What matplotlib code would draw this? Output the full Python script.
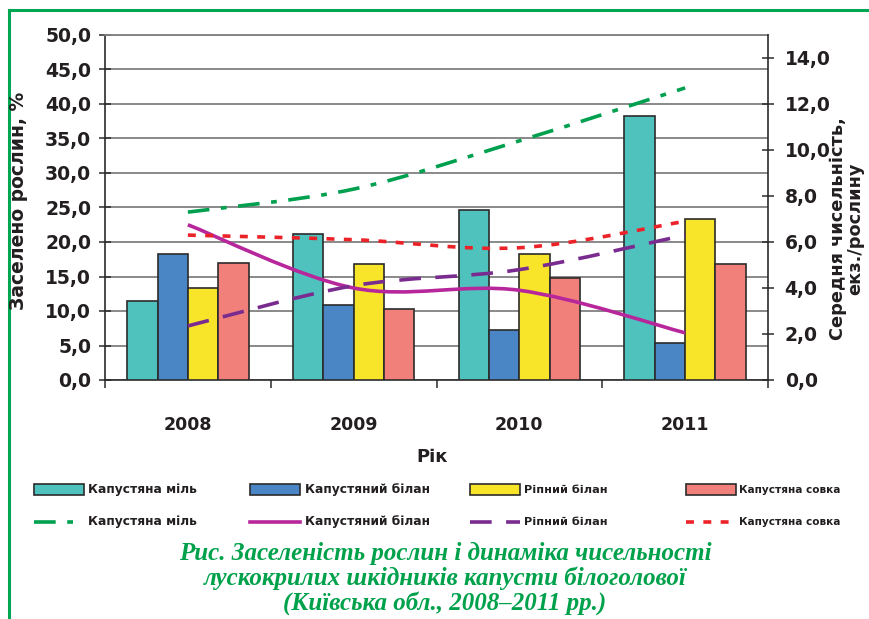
import numpy as np
import matplotlib
matplotlib.use("Agg")
import matplotlib.pyplot as plt
from matplotlib.path import Path
from matplotlib.patches import PathPatch, Rectangle
from matplotlib.lines import Line2D
from matplotlib.ticker import FuncFormatter

# ---- data ----
years = ["2008", "2009", "2010", "2011"]
bar_names = ["Капустяна міль", "Капустяний білан", "Ріпний білан", "Капустяна совка"]
# заселено рослин, %
bar_mil = [11.4, 21.1, 24.6, 38.2]
bar_bilan = [18.3, 10.8, 7.3, 5.3]
bar_ripnyi = [13.3, 16.8, 18.3, 23.3]
bar_sovka = [17.0, 10.3, 14.8, 16.8]
# середня чисельність, екз./рослину
line_mil = [7.3, 8.3, 10.4, 12.7]
line_bilan = [6.75, 4.0, 3.9, 2.05]
line_ripnyi = [2.35, 4.1, 4.8, 6.3]
line_sovka = [6.3, 6.1, 5.75, 6.9]

bar_colors = ["#4FC2BE", "#4A86C6", "#F8E52A", "#F2807A"]
line_colors = ["#00A04F", "#B7279B", "#7A2B8F", "#EC2229"]
line_styles = [(0, (6, 3.2, 1.6, 3.2)), "-", (0, (6, 4)), (0, (2.2, 2.6))]

fig = plt.figure(figsize=(8.69, 6.19), dpi=100)
ax = fig.add_axes([105 / 869, 1 - 380 / 619, (768 - 105) / 869, (380 - 35) / 619])
ax2 = ax.twinx()

x = np.arange(len(years))
w = 0.183
bars = [bar_mil, bar_bilan, bar_ripnyi, bar_sovka]
for i, vals in enumerate(bars):
    ax.bar(x + (i - 1.5) * w, vals, width=w, color=bar_colors[i],
           edgecolor="#2b2b2b", linewidth=1.2, zorder=3)

ax.set_xlim(-0.5, 3.5)
ax.set_ylim(0, 50)
ax.set_yticks(np.arange(0, 50.1, 5))
fmt = FuncFormatter(lambda v, p: f"{v:.1f}".replace(".", ","))
ax.yaxis.set_major_formatter(fmt)
ax.grid(axis="y", color="#808080", linewidth=1.3, zorder=0)
ax.set_axisbelow(True)
ax.set_xticks(x)
ax.set_xticklabels(years)
ax.set_xticks(np.arange(-0.5, 3.6, 1), minor=True)
ax.tick_params(axis="x", which="major", length=0, pad=26, labelsize=12.5)
ax.tick_params(axis="x", which="minor", length=6, width=1.1, direction="out", color="#2b2b2b")
ax.tick_params(axis="y", direction="inout", length=8, width=1.1, pad=6, labelsize=13.5,
               color="#2b2b2b")
for lab in ax.get_xticklabels() + ax.get_yticklabels():
    lab.set_fontweight("bold")
    lab.set_color("#231f20")
for s in ["left", "bottom"]:
    ax.spines[s].set_color("#2b2b2b")
    ax.spines[s].set_linewidth(1.2)
ax.spines["top"].set_color("#808080")
ax.spines["top"].set_linewidth(1.3)
ax.spines["right"].set_visible(False)

ax2.set_ylim(0, 15)
ax2.set_yticks(np.arange(0, 14.1, 2))
ax2.yaxis.set_major_formatter(fmt)
ax2.tick_params(axis="y", direction="inout", length=8, width=1.1, pad=8, labelsize=13.5,
                color="#2b2b2b")
for lab in ax2.get_yticklabels():
    lab.set_fontweight("bold")
    lab.set_color("#231f20")
for s in ["left", "top", "bottom"]:
    ax2.spines[s].set_visible(False)
ax2.spines["right"].set_color("#2b2b2b")
ax2.spines["right"].set_linewidth(1.2)


def smooth_path(xs, ys):
    pts = np.column_stack([xs, ys]).astype(float)
    n = len(pts)
    verts = [pts[0]]
    codes = [Path.MOVETO]
    for k in range(n - 1):
        p0 = pts[k - 1] if k > 0 else pts[k]
        p1 = pts[k]
        p2 = pts[k + 1]
        p3 = pts[k + 2] if k + 2 < n else pts[k + 1]
        c1 = p1 + (p2 - p0) / 6.0
        c2 = p2 - (p3 - p1) / 6.0
        verts += [c1, c2, p2]
        codes += [Path.CURVE4] * 3
    return Path(verts, codes)


lines = [line_mil, line_bilan, line_ripnyi, line_sovka]
for i, vals in enumerate(lines):
    patch = PathPatch(smooth_path(x, vals), fill=False, edgecolor=line_colors[i],
                      linewidth=2.6, linestyle=line_styles[i], zorder=4,
                      capstyle="butt")
    ax2.add_patch(patch)

# axis titles
fig.text(19 / 869, 1 - 201 / 619, "Заселено рослин, %", rotation=90, ha="center",
         va="center", fontsize=13.5, fontweight="bold", color="#231f20")
fig.text(847 / 869, 1 - 229 / 619, "Середня чисельність,\nекз./рослину", rotation=90,
         ha="center", va="center", fontsize=12.8, fontweight="bold", color="#231f20",
         multialignment="center", linespacing=0.95)
fig.text(432 / 869, 1 - 457 / 619, "Рік", ha="center", va="center", fontsize=13,
         fontweight="bold", color="#231f20")

# legend (manual, two rows)
col_x = [34, 250, 470, 686]
txt_x = [88, 305, 524, 739]
leg_sizes = [8.8, 8.8, 8.1, 7.6]
for i in range(4):
    leg_font = dict(fontsize=leg_sizes[i], fontweight="bold", color="#231f20",
                    va="center", ha="left")
    y1 = 1 - 490 / 619
    fig.add_artist(Rectangle((col_x[i] / 869, y1 - 5 / 619), 50 / 869, 11 / 619,
                             transform=fig.transFigure, facecolor=bar_colors[i],
                             edgecolor="#2b2b2b", linewidth=1.2))
    fig.text(txt_x[i] / 869, y1, bar_names[i], **leg_font)
    y2 = 1 - 522 / 619
    fig.add_artist(Line2D([col_x[i] / 869, (col_x[i] + 50) / 869], [y2, y2],
                          transform=fig.transFigure, color=line_colors[i],
                          linewidth=2.6, linestyle=line_styles[i]))
    fig.text(txt_x[i] / 869, y2, bar_names[i], **leg_font)

# caption
cap_font = dict(fontsize=18, fontweight="bold", style="italic", color="#00A14B",
                ha="center", va="center", family=["Liberation Serif", "DejaVu Serif"])
fig.text(445 / 869, 1 - 553 / 619, "Рис. Заселеність рослин і динаміка чисельності", **cap_font)
fig.text(445 / 869, 1 - 578 / 619, "лускокрилих шкідників капусти білоголової", **cap_font)
fig.text(445 / 869, 1 - 603 / 619, "(Київська обл., 2008–2011 рр.)", **cap_font)

# green frame
fig.add_artist(Line2D([9 / 869, 1.0], [1 - 10 / 619, 1 - 10 / 619], transform=fig.transFigure,
                      color="#00A651", linewidth=2.2))
fig.add_artist(Line2D([9 / 869, 9 / 869], [0, 1 - 10 / 619], transform=fig.transFigure,
                      color="#00A651", linewidth=2.2))

fig.savefig("out.png", dpi=100)
